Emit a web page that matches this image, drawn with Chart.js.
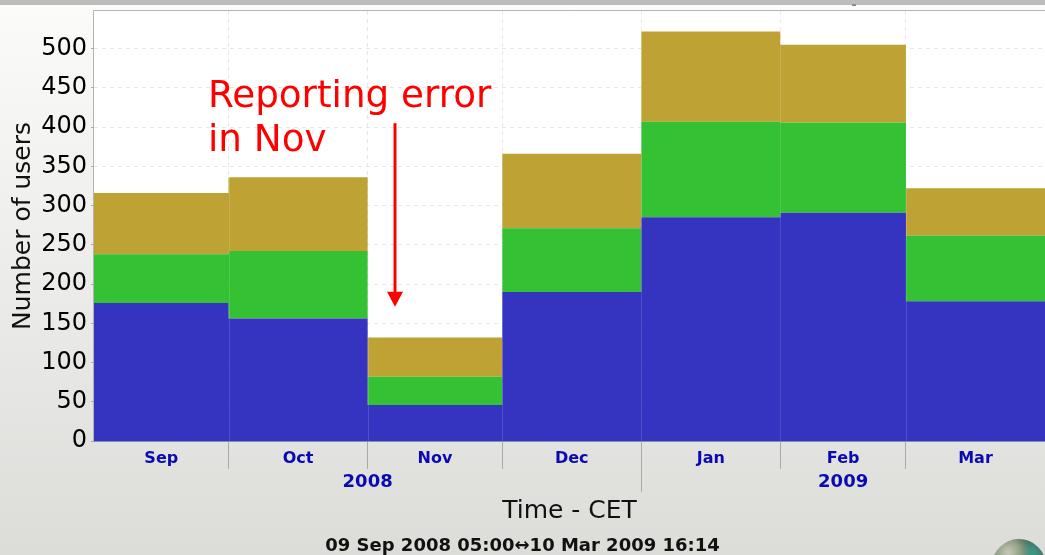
<!DOCTYPE html>
<html>
<head>
<meta charset="utf-8">
<style>
  html, body { margin: 0; padding: 0; width: 1045px; height: 555px; overflow: hidden; }
  body { position: relative; background: linear-gradient(#fbfbfa 10px, #dcdcd9 555px); }
  #bar { position: absolute; left: 0; top: 0; width: 1045px; height: 5px; background: #bdbdbd; }
  #mark { position: absolute; left: 852px; top: 4px; width: 4px; height: 2px; background: #8a8a8a; }
  #globe { position: absolute; left: 992px; top: 539px; width: 54px; height: 54px; border-radius: 50%;
           background: radial-gradient(circle at 30% 25%, #c8c8b4 0, #8fa184 22%, transparent 40%),
                       radial-gradient(circle at 75% 25%, #3c9c86 0, #4a6a60 25%, #3d4442 70%); }
  #wrap { position: absolute; left: 0; top: 0; width: 1045px; height: 555px; }
</style>
<script src="https://cdn.jsdelivr.net/npm/chart.js@4"></script>
</head>
<body>
<div id="bar"></div>
<div id="mark"></div>
<div id="globe"></div>
<div id="wrap"><canvas id="chart" width="1045" height="555"></canvas></div>
<script>
// Monthly users, stacked steps. Month widths follow the number of days, so x is in days.
const months = ["Sep", "Oct", "Nov", "Dec", "Jan", "Feb", "Mar"];
const monthDays = [30, 31, 30, 31, 31, 28, 31];
const years = ["2008", "2009"];
const yearDays = [122, 90];
const blueUsers = [176, 156, 46, 190, 285, 291, 178];
const greenUsers = [62, 86, 36, 81, 122, 115, 84];
const goldUsers = [78, 94, 50, 95, 115, 99, 60];
const yTicks = [0, 50, 100, 150, 200, 250, 300, 350, 400, 450, 500];
const noteLines = ["Reporting error", "in Nov"];
const rangeLabel = "09 Sep 2008 05:00\u219410 Mar 2009 16:14";

const FONT = "'DejaVu Sans'";
const totalDays = monthDays.reduce((a, b) => a + b, 0);

let d = 0;
const monthStarts = monthDays.map((n) => { const s = d; d += n; return s; });

// one point per month plus a closing point, drawn as flat steps
function steps(values) {
  const pts = values.map((v, i) => ({ x: monthStarts[i], y: v }));
  pts.push({ x: totalDays, y: values[values.length - 1] });
  return pts;
}

function series(label, values, color, fill) {
  return { label, data: steps(values), backgroundColor: color, borderWidth: 0, pointRadius: 0, stepped: "before", fill };
}

const monthLabels = {};
monthStarts.forEach((s, i) => { monthLabels[s + monthDays[i] / 2] = months[i]; });
const yearLabels = { [yearDays[0] / 2]: years[0], [yearDays[0] + yearDays[1] / 2]: years[1] };

const framePlugin = {
  id: "frame",
  beforeDraw(chart) {
    const { ctx, chartArea: a } = chart;
    ctx.save();
    ctx.fillStyle = "#fff";
    ctx.fillRect(a.left, a.top, a.right - a.left, a.bottom - a.top);
    ctx.strokeStyle = "#b4b4b4";
    ctx.lineWidth = 1;
    ctx.beginPath();
    ctx.moveTo(a.left - 0.5, a.bottom);
    ctx.lineTo(a.left - 0.5, a.top - 0.5);
    ctx.lineTo(a.right, a.top - 0.5);
    ctx.stroke();
    ctx.restore();
  },
};

// red note and arrow, anchored on the data scales
const notePlugin = {
  id: "note",
  afterDatasetsDraw(chart) {
    const { ctx, scales, chartArea: a } = chart;
    const ax = scales.x.getPixelForValue(67.1);
    const y0 = scales.y.getPixelForValue(405);
    const y1 = scales.y.getPixelForValue(171);
    ctx.save();
    // faint month dividers showing through the fills
    ctx.strokeStyle = "rgba(255,255,255,0.13)";
    ctx.lineWidth = 1;
    monthStarts.slice(1).forEach((s) => {
      const px = Math.round(scales.x.getPixelForValue(s)) + 0.5;
      ctx.beginPath();
      ctx.moveTo(px, a.top);
      ctx.lineTo(px, a.bottom);
      ctx.stroke();
    });
    ctx.fillStyle = "#ff0000";
    ctx.strokeStyle = "#ff0000";
    ctx.font = "37.3px " + FONT;
    ctx.textBaseline = "alphabetic";
    noteLines.forEach((t, i) => ctx.fillText(t, scales.x.getPixelForValue(25.4), scales.y.getPixelForValue(426 - i * 57)));
    ctx.lineWidth = 3;
    ctx.beginPath();
    ctx.moveTo(ax, y0);
    ctx.lineTo(ax, y1 - 10);
    ctx.stroke();
    ctx.beginPath();
    ctx.moveTo(ax - 8, y1 - 15);
    ctx.lineTo(ax + 8, y1 - 15);
    ctx.lineTo(ax, y1);
    ctx.closePath();
    ctx.fill();
    ctx.restore();
  },
};

new Chart(document.getElementById("chart"), {
  type: "line",
  data: {
    datasets: [
      series("Blue", blueUsers, "rgba(44,44,190,0.96)", "origin"),
      series("Green", greenUsers, "rgba(44,190,44,0.96)", "-1"),
      series("Gold", goldUsers, "rgba(188,158,44,0.96)", "-1"),
    ],
  },
  options: {
    responsive: false,
    animation: false,
    layout: { padding: { top: 11, left: 0, right: 0, bottom: 0 } },
    plugins: {
      legend: { display: false },
      tooltip: { enabled: false },
      title: {
        display: true,
        position: "bottom",
        text: rangeLabel,
        color: "#111",
        padding: 0,
        font: { family: FONT, size: 18, weight: "bold", lineHeight: 1 },
      },
    },
    scales: {
      y: {
        stacked: true,
        min: 0,
        max: 548,
        afterFit(s) { s.width = 94; s.paddingTop = 0; s.paddingBottom = 0; },
        afterBuildTicks(s) { s.ticks = yTicks.map((value) => ({ value })); },
        title: { display: true, text: "Number of users", color: "#111", font: { family: FONT, size: 25 }, padding: { top: 8, bottom: 0 } },
        ticks: { color: "#000", font: { family: FONT, size: 24 }, padding: 4 },
        grid: { color: "#e6e6e6", tickColor: "#aaa", tickLength: 3 },
        border: { dash: [4, 4], color: "#b4b4b4", display: false },
      },
      x: {
        type: "linear",
        min: 0,
        max: totalDays,
        afterFit(s) { s.height = 28; },
        afterBuildTicks(s) {
          const inner = monthStarts.slice(1);
          s.ticks = inner.concat(Object.keys(monthLabels).map(Number)).sort((a, b) => a - b).map((value) => ({ value }));
        },
        ticks: {
          autoSkip: false,
          maxRotation: 0,
          padding: -20,
          color: "#0a0ab4",
          font: { family: FONT, size: 16, weight: "bold" },
          callback: (v) => monthLabels[v] || "",
        },
        grid: {
          tickLength: 28,
          color: (c) => (c.tick && monthStarts.includes(c.tick.value) ? "#e6e6e6" : "transparent"),
          tickColor: (c) => (c.tick && monthStarts.includes(c.tick.value) ? "#aaa" : "transparent"),
        },
        border: { dash: [4, 4], display: true, color: "#8a8ab8" },
      },
      xYear: {
        type: "linear",
        position: "bottom",
        min: 0,
        max: totalDays,
        afterFit(s) { s.height = 68; },
        afterBuildTicks(s) {
          s.ticks = [yearDays[0]].concat(Object.keys(yearLabels).map(Number)).sort((a, b) => a - b).map((value) => ({ value }));
        },
        title: { display: true, text: "Time - CET", color: "#111", font: { family: FONT, size: 25 }, padding: { top: 0, bottom: 11 } },
        ticks: {
          autoSkip: false,
          maxRotation: 0,
          padding: -20,
          color: "#0a0ab4",
          font: { family: FONT, size: 18, weight: "bold" },
          callback: (v) => yearLabels[v] || "",
        },
        grid: {
          drawOnChartArea: false,
          tickLength: 23,
          color: (c) => (c.tick && c.tick.value === yearDays[0] ? "#aaa" : "transparent"),
        },
        border: { display: false },
      },
    },
  },
  plugins: [framePlugin, notePlugin],
});
</script>
</body>
</html>
